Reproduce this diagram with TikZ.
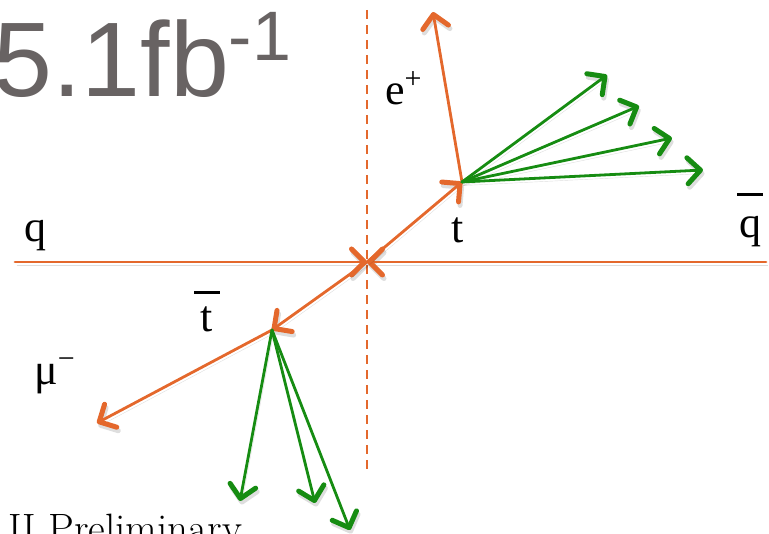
\documentclass[tikz,border=0pt]{standalone}
\usepackage{fontspec}
\usepackage{xcolor}
\usepackage{tikz}
\usetikzlibrary{arrows.meta, positioning}

\newfontfamily\labelfont{Liberation Serif}
\newfontfamily\lumifont{Liberation Sans}

\definecolor{trackorange}{RGB}{228,104,44}
\definecolor{jetgreen}{RGB}{22,140,18}
\definecolor{lumigray}{RGB}{104,99,99}

\newcommand{\sups}[1]{\raisebox{0.38em}{\fontsize{30}{30}\selectfont #1}}

\begin{document}
\begin{tikzpicture}[
  x=1pt, y=-1pt,
  tip/.style={-{Straight Barb[length=13pt, width=26pt, line width=5pt, round]}},
  soft/.style={preaction={draw, opacity=0.13, color=black,
               transform canvas={shift={(1.5pt,-3.5pt)}}}},
  track/.style={tip, soft, line width=2.8pt, color=trackorange, line cap=round},
  jet/.style={tip, soft, line width=2.8pt, color=jetgreen, line cap=round},
  axis/.style={line width=2.2pt, color=trackorange, dash pattern=on 9pt off 6pt},
  lbl/.style={inner sep=0pt, font=\labelfont\fontsize{44}{48}\selectfont}
]
\useasboundingbox (0,0) rectangle (769,534);

% vertices
\coordinate (vtx)  at (367,262);
\coordinate (beamL) at (15,262);
\coordinate (beamR) at (766,262);
\coordinate (top)  at (462,182);
\coordinate (atop) at (272,330);
\coordinate (axT) at (367,10);
\coordinate (axB) at (367,470);
\coordinate (pos) at (433,12);
\coordinate (muon) at (97,423);
\coordinate (jA) at (607,75);
\coordinate (jB) at (639,106);
\coordinate (jC) at (672,138);
\coordinate (jD) at (703,170);
\coordinate (kA) at (240,501);
\coordinate (kB) at (315,503);
\coordinate (kC) at (350,530);

% luminosity
\node[inner sep=0pt, anchor=base west, text=lumigray,
      font=\lumifont\fontsize{106}{110}\selectfont] (lumi) at (-7,97)
  {5.1fb\raisebox{0.34em}{\fontsize{70}{70}\selectfont -1}};

% beam axis
\draw[axis] (axT) -- (axB);

% incoming quarks and top pair
\draw[track] (beamL) -- (vtx);
\draw[track] (beamR) -- (vtx);
\draw[track] (vtx) -- (top);
\draw[track] (vtx) -- (atop);

% leptons
\draw[track] (top) -- (pos);
\draw[track] (atop) -- (muon);

% jets
\foreach \j in {jA,jB,jC,jD}
  \draw[jet] (top) -- (\j);
\foreach \k in {kA,kB,kC}
  \draw[jet] (atop) -- (\k);

% labels
\node[lbl, anchor=base west] (lq) at (24,242) {q};
\node[lbl, anchor=base] (lt) at (458,243) {t};
\node[lbl, anchor=base, align=center] (lqbar) at (750,238)
  {\rule{26pt}{3pt}\\[-6pt]q};
\node[lbl, anchor=base, align=center] (ltbar) at (207,332)
  {\rule{26pt}{3pt}\\[-10pt]t};
\node[lbl, anchor=base west] (lpos) at (385,105) {e\sups{+}};
\node[lbl, anchor=base west] (lmu) at (34,385) {μ\sups{−}};
\node[inner sep=0pt, anchor=base west, font=\fontsize{41}{44}\selectfont]
  (prelim) at (8,543) {II Preliminary};

\end{tikzpicture}
\end{document}
